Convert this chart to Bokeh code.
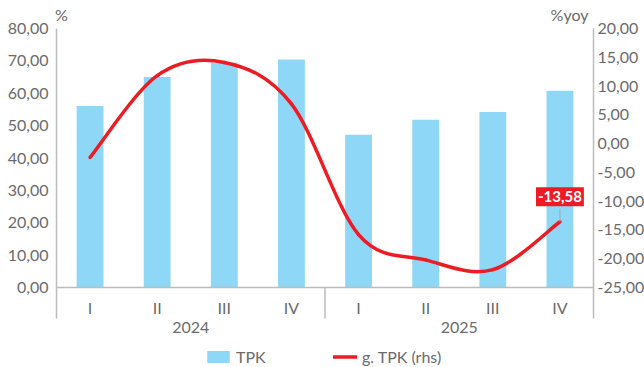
import numpy as np
from bokeh.plotting import figure
from bokeh.models import (Range1d, LinearAxis, FixedTicker, CustomJSTickFormatter,
                          Legend, LegendItem, Label)
from bokeh.core.properties import value
from bokeh.embed import file_html
from bokeh.resources import INLINE

# ---------------- data ----------------
years = ["2024", "2025"]
quarters = ["I", "II", "III", "IV", "I", "II", "III", "IV"]
tpk = [56.1, 65.0, 69.5, 70.4, 47.2, 51.8, 54.2, 60.8]
g_tpk = [-2.4, 11.8, 14.1, 6.9, -15.8, -20.2, -21.9, -13.58]
left_ticks = [0, 10, 20, 30, 40, 50, 60, 70, 80]
right_ticks = [-25, -20, -15, -10, -5, 0, 5, 10, 15, 20]

# ---------------- style ----------------
FONT = "Lato"
GRAY = "#6b6b6b"
AXIS = "#bcbcbc"
BLUE = "#8fd7f6"
RED = "#ed1c24"
FS = "16px"

W, H = 644, 367
PLOT_L, PLOT_R = 56, 593      # pixel x of the two value axes
PLOT_T, PLOT_B = 28, 287      # pixel y of top / zero ticks
SEP_B = 318                   # bottom of axis / separator lines
K = 2                         # frame slack around axis lines
FL, FR = PLOT_L - K, PLOT_R + K

n = len(tpk)
cw = (PLOT_R - PLOT_L) / n
ppu_l = (PLOT_B - PLOT_T) / (left_ticks[-1] - left_ticks[0])
ppu_r = (PLOT_B - PLOT_T) / (right_ticks[-1] - right_ticks[0])

def ly(px):   # canvas pixel y -> left data y
    return left_ticks[0] + (PLOT_B - px) / ppu_l

def ry(px):
    return right_ticks[0] + (PLOT_B - px) / ppu_r

def dx(px):
    return 0.5 + (px - PLOT_L) / cw

x = np.arange(1, n + 1, dtype=float)

p = figure(frame_width=FR - FL, frame_height=H,
           x_range=Range1d(dx(FL), dx(FR)),
           y_range=Range1d(ly(H), ly(0)),
           x_axis_location=None,
           output_backend="svg", toolbar_location=None,
           min_border_left=FL, min_border_right=W - FR,
           min_border_top=0, min_border_bottom=0)
p.extra_y_ranges = {"right": Range1d(ry(H), ry(0))}
p.xgrid.visible = False
p.ygrid.visible = False
p.outline_line_color = None
p.background_fill_color = "white"
p.border_fill_color = "white"

fmt = CustomJSTickFormatter(code="return tick.toFixed(2).replace('.', ',');")

def style_axis(ax, standoff):
    ax.axis_line_color = None
    ax.major_tick_line_color = None
    ax.minor_tick_line_color = None
    ax.major_tick_out = 0
    ax.major_tick_in = 0
    ax.minor_tick_out = 0
    ax.minor_tick_in = 0
    ax.major_label_text_font = FONT
    ax.major_label_text_font_size = FS
    ax.major_label_text_color = GRAY
    ax.major_label_standoff = standoff
    ax.formatter = fmt

yl = p.yaxis[0]
yl.ticker = FixedTicker(ticks=left_ticks)
style_axis(yl, PLOT_L - FL + 4)

yr = LinearAxis(y_range_name="right", ticker=FixedTicker(ticks=right_ticks))
style_axis(yr, 2)
p.add_layout(yr, "right")

# bars
bars = p.vbar(x=x, top=tpk, width=0.4, fill_color=BLUE, line_color=None)

# axis lines, base line and group separators
ax_lw = 1.5
y_top, y_bot = left_ticks[-1], ly(SEP_B)
n_per = len(quarters) // len(years)
sep = [0.5 + n_per * i for i in range(len(years) + 1)]
p.segment(x0=sep, y0=[y_bot] * len(sep),
          x1=sep, y1=[y_top if (s == sep[0] or s == sep[-1]) else 0 for s in sep],
          line_color=AXIS, line_width=ax_lw)
p.segment(x0=[0.5], y0=[0], x1=[n + 0.5], y1=[0], line_color=AXIS, line_width=ax_lw)

# quarter labels and year labels
p.text(x=x, y=[ly(307)] * n, text=quarters, text_font=value(FONT),
       text_font_size=FS, text_color=GRAY, text_align="center",
       text_baseline="middle")
year_pos = [0.5 + n_per * i + n_per / 2 for i in range(len(years))]
p.text(x=year_pos, y=[ly(327)] * len(years), text=years, text_font=value(FONT),
       text_font_size=FS, text_color=GRAY, text_align="center",
       text_baseline="middle")

# axis unit titles
p.text(x=[dx(61)], y=[ly(14)], text=["%"], text_font=value(FONT),
       text_font_size=FS, text_color=GRAY, text_align="center", text_baseline="middle")
p.text(x=[dx(588)], y=[ly(14)], text=["%yoy"], text_font=value(FONT),
       text_font_size=FS, text_color=GRAY, text_align="right", text_baseline="middle")

# smooth line through growth points (Catmull-Rom -> Bezier)
P = np.column_stack([x, np.array(g_tpk)])
Pe = np.vstack([P[0], P, P[-1]])
x0s, y0s, x1s, y1s, c0x, c0y, c1x, c1y = ([] for _ in range(8))
for i in range(len(P) - 1):
    p0, p1, p2, p3 = Pe[i], Pe[i + 1], Pe[i + 2], Pe[i + 3]
    cA = p1 + (p2 - p0) / 6.0
    cB = p2 - (p3 - p1) / 6.0
    x0s.append(p1[0]); y0s.append(p1[1]); x1s.append(p2[0]); y1s.append(p2[1])
    c0x.append(cA[0]); c0y.append(cA[1]); c1x.append(cB[0]); c1y.append(cB[1])
line = p.bezier(x0=x0s, y0=y0s, x1=x1s, y1=y1s, cx0=c0x, cy0=c0y, cx1=c1x, cy1=c1y,
                y_range_name="right", line_color=RED, line_width=3.5, line_cap="round")

# data label for last point
last = g_tpk[-1]
p.segment(x0=[x[-1]], y0=[last], x1=[x[-1]], y1=[last + 13 / ppu_r],
          y_range_name="right", line_color="#a8a8a8", line_width=1)
p.add_layout(Label(x=x[-1], y=last, y_range_name="right", y_offset=25,
                   text=f"{last:.2f}".replace(".", ","),
                   text_font=FONT, text_font_size="15px", text_font_style="bold",
                   text_color="white", text_align="center", text_baseline="middle",
                   background_fill_color=RED, padding=(2, 4)))

# legends (inside the frame, at the bottom)
common = dict(orientation="horizontal", padding=0, margin=0, border_line_alpha=0,
              background_fill_alpha=0, label_text_font=FONT,
              label_text_font_size=FS, label_text_color=GRAY)
leg1 = Legend(items=[LegendItem(label="TPK", renderers=[bars])],
              location=(204 - FL, 1), glyph_width=28, glyph_height=15,
              label_standoff=4, **common)
leg2 = Legend(items=[LegendItem(label="g. TPK (rhs)", renderers=[line])],
              location=(333 - FL, 1), glyph_width=24, glyph_height=15,
              label_standoff=5, **common)
p.add_layout(leg1)
p.add_layout(leg2)

open("out.html", "w").write(file_html(p, INLINE))
